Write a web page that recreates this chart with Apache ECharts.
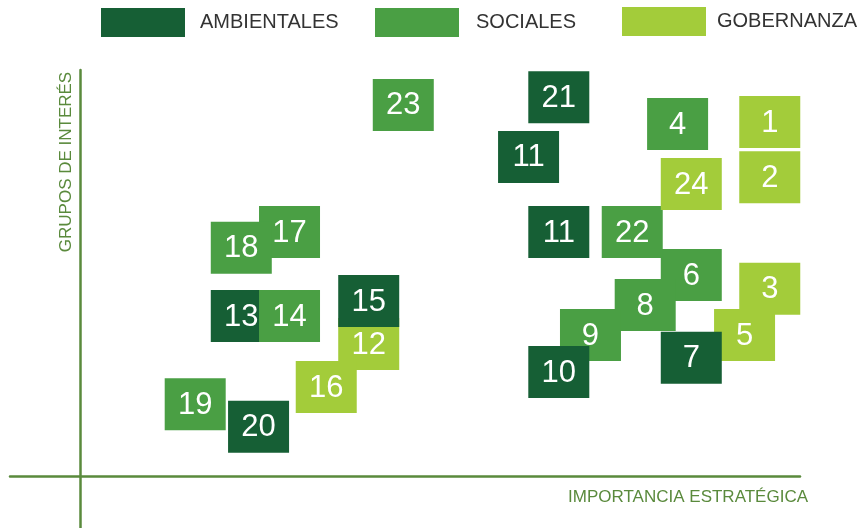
<!DOCTYPE html>
<html>
<head>
<meta charset="utf-8">
<script src="https://cdn.jsdelivr.net/npm/echarts@6/dist/echarts.min.js"></script>
<style>
  html, body { margin: 0; padding: 0; background: #fff; }
  #chart { width: 858px; height: 528px; }
</style>
</head>
<body>
<div id="chart"></div>
<script>
// materiality matrix: x = importancia estratégica, y = grupos de interés (0-10)
const ambientalIds = ['21', '11', '11', '13', '15', '20', '10', '7'];
const ambientalX = [6.65, 6.23, 6.65, 2.24, 4.01, 2.48, 6.65, 8.49];
const ambientalY = [9.33, 7.86, 6.01, 3.94, 4.31, 1.21, 2.56, 2.91];

const socialIds = ['23', '4', '17', '18', '14', '22', '6', '8', '9', '19'];
const socialX = [4.49, 8.30, 2.91, 2.24, 2.91, 7.67, 8.49, 7.85, 7.09, 1.60];
const socialY = [9.14, 8.67, 6.01, 5.62, 3.94, 6.01, 4.95, 4.21, 3.47, 1.77];

const gobernanzaIds = ['1', '2', '24', '3', '5', '12', '16'];
const gobernanzaX = [9.58, 9.58, 8.49, 9.58, 9.23, 4.01, 3.42];
const gobernanzaY = [8.72, 7.36, 7.19, 4.61, 3.47, 3.25, 2.19];

const groups = [
  { name: 'AMBIENTALES', color: '#165f35', ids: ambientalIds, x: ambientalX, y: ambientalY },
  { name: 'SOCIALES', color: '#4a9f44', ids: socialIds, x: socialX, y: socialY },
  { name: 'GOBERNANZA', color: '#a3cc3a', ids: gobernanzaIds, x: gobernanzaX, y: gobernanzaY }
];

const axisColor = '#5a8a3c';
const chart = echarts.init(document.getElementById('chart'));

function renderSquare(params, api) {
  const id = groups[params.seriesIndex].ids[params.dataIndex];
  const c = api.coord([api.value(0), api.value(1)]);
  const order = Number(id) * 2;
  return {
    type: 'group',
    children: [{
      type: 'rect',
      z2: order,
      shape: { x: c[0] - 30.5, y: c[1] - 26, width: 61, height: 52 },
      style: { fill: api.visual('color') }
    }, {
      type: 'text',
      z2: order + 1,
      style: {
        text: id,
        x: c[0],
        y: c[1] + 1,
        fill: '#fff',
        fontSize: 31,
        fontFamily: 'Liberation Sans',
        align: 'center',
        verticalAlign: 'middle'
      }
    }]
  };
}

const legendLeft = [101, 375, 622];
const legendTop = [8, 8, 7];
const legendGap = [10, 12, 6];

chart.setOption({
  animation: false,
  legend: groups.map((g, i) => ({
    data: [g.name],
    left: legendLeft[i],
    top: legendTop[i],
    padding: 0,
    icon: 'rect',
    itemWidth: 84,
    itemHeight: 29,
    selectedMode: false,
    textStyle: {
      fontSize: 20,
      fontFamily: 'Liberation Sans',
      color: '#333',
      padding: [0, 0, 0, legendGap[i]]
    }
  })),
  grid: { left: 10, right: 58, top: 70, bottom: 0 },
  xAxis: {
    type: 'value',
    min: -70 / 72,
    max: 10,
    name: 'IMPORTANCIA ESTRATÉGICA',
    nameLocation: 'end',
    nameGap: 8,
    nameTextStyle: {
      color: axisColor,
      fontSize: 17,
      fontFamily: 'Liberation Sans',
      align: 'right',
      verticalAlign: 'top',
      padding: [13, 0, 0, 0]
    },
    axisLine: { onZero: true, lineStyle: { color: axisColor, width: 2.5 } },
    axisTick: { show: false },
    axisLabel: { show: false },
    splitLine: { show: false }
  },
  yAxis: {
    type: 'value',
    min: -52 / 40.6,
    max: 10,
    name: 'GRUPOS DE INTERÉS',
    nameLocation: 'end',
    nameRotate: 90,
    nameGap: -92,
    nameTextStyle: {
      color: axisColor,
      fontSize: 17,
      fontFamily: 'Liberation Sans',
      align: 'center',
      verticalAlign: 'bottom',
      padding: [0, 0, 5, 0]
    },
    axisLine: { onZero: true, lineStyle: { color: axisColor, width: 2.5 } },
    axisTick: { show: false },
    axisLabel: { show: false },
    splitLine: { show: false }
  },
  series: groups.map(g => ({
    type: 'custom',
    name: g.name,
    coordinateSystem: 'cartesian2d',
    itemStyle: { color: g.color },
    encode: { x: 0, y: 1 },
    renderItem: renderSquare,
    data: g.x.map((x, i) => [x, g.y[i]])
  }))
});
</script>
</body>
</html>
